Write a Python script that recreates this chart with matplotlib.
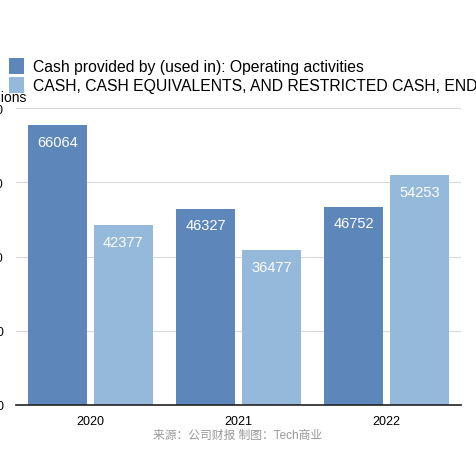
import numpy as np
import matplotlib.pyplot as plt

plt.rcParams['font.family'] = ['Liberation Sans', 'Noto Sans CJK SC']

# Data
years = ['2020', '2021', '2022']
operating = [66064, 46327, 46752]
cash_end = [42377, 36477, 54253]
labels = ['Cash provided by (used in): Operating activities',
          'CASH, CASH EQUIVALENTS, AND RESTRICTED CASH, END OF PERIOD']
yticks = [0, 17500, 35000, 52500, 70000]

c_dark = '#5d86ba'
c_light = '#95b9da'

fig = plt.figure(figsize=(4.76, 4.77), dpi=100)
ax = fig.add_axes([0.034, 0.149, 0.934, 0.622])

x = np.arange(len(years))
w = 0.4
b1 = ax.bar(x - 0.022 - w / 2, operating, w, color=c_dark, label=labels[0])
b2 = ax.bar(x + 0.022 + w / 2, cash_end, w, color=c_light, label=labels[1])

for bars, vals in [(b1, operating), (b2, cash_end)]:
    for rect, v in zip(bars, vals):
        ax.annotate(str(v), (rect.get_x() + rect.get_width() / 2, v),
                    xytext=(0, -12), textcoords='offset points',
                    ha='center', va='center', color='white', fontsize=10.5)

ax.set_xlim(-0.5, 2.5)
ax.set_ylim(0, 70000)
ax.set_yticks(yticks)
ax.set_yticklabels([str(t) for t in yticks])
ax.set_xticks(x)
ax.set_xticklabels(years)
ax.tick_params(axis='y', length=0, pad=9, labelsize=9)
ax.tick_params(axis='x', length=0, pad=7, labelsize=9)
ax.grid(axis='y', color='#d9d9d9', linewidth=0.8)
ax.set_axisbelow(True)
for s in ['left', 'right', 'top']:
    ax.spines[s].set_visible(False)
ax.spines['bottom'].set_color('#222222')
ax.spines['bottom'].set_linewidth(1.2)

fig.text(27 / 476, 1 - 98 / 477, 'Millions', ha='right', va='center', fontsize=10)

fig.legend(loc='upper left', bbox_to_anchor=(4 / 476, 1 - 54 / 477), frameon=False,
           fontsize=11.3, handlelength=0.95, handleheight=1.25, handletextpad=0.6,
           labelspacing=0.15, borderaxespad=0, borderpad=0.3)

fig.text(0.5, 1 - 436 / 477, '来源：公司财报 制图：Tech商业', ha='center', va='center',
         fontsize=8.5, color='#999999')

fig.savefig('out.png', dpi=100)
